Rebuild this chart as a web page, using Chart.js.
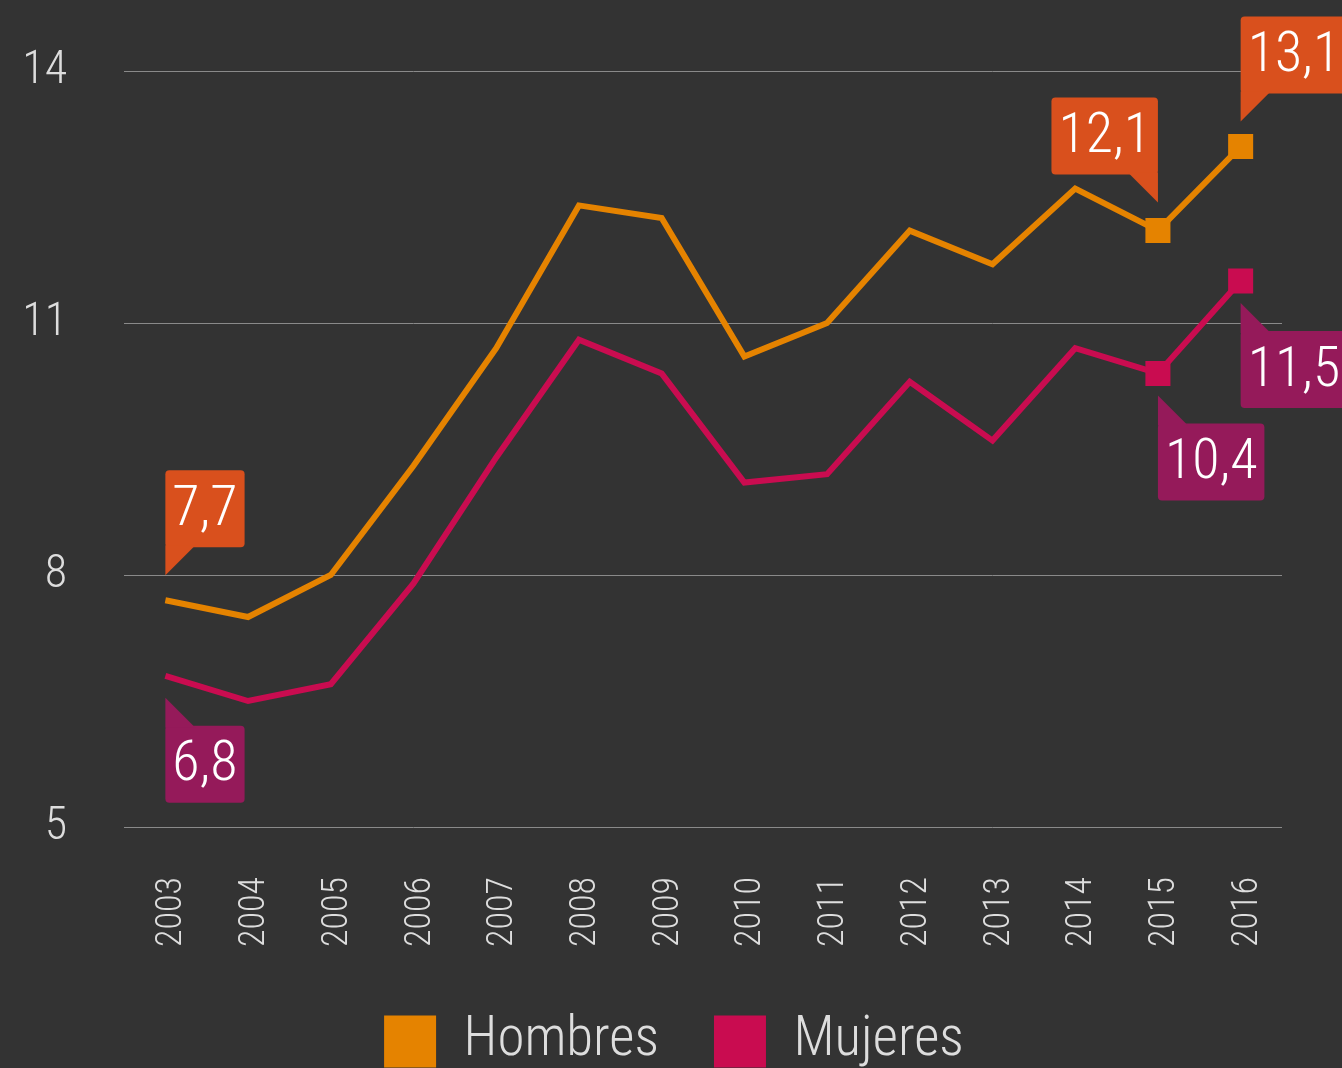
<!DOCTYPE html>
<html>
<head>
<meta charset="utf-8">
<script src="https://cdn.jsdelivr.net/npm/chart.js@4/dist/chart.umd.min.js"></script>
<style>
  html, body { margin: 0; padding: 0; background: #333333; overflow: hidden; }
  canvas { display: block; }
</style>
</head>
<body>
<canvas id="chart" width="1342" height="1080"></canvas>
<script>
var years = ['2003', '2004', '2005', '2006', '2007', '2008', '2009', '2010', '2011', '2012', '2013', '2014', '2015', '2016'];
var hombres = [7.7, 7.5, 8.0, 9.3, 10.7, 12.4, 12.25, 10.6, 11.0, 12.1, 11.7, 12.6, 12.1, 13.1];
var mujeres = [6.8, 6.5, 6.7, 7.9, 9.4, 10.8, 10.4, 9.1, 9.2, 10.3, 9.6, 10.7, 10.4, 11.5];
var yTicks = [5, 8, 11, 14];

var FONT = '"Roboto Condensed", "DejaVu Sans Condensed", sans-serif';

// which points carry a value bubble, and where it sits
var callouts = [
    { ds: 0, i: 0,  side: 'above-right', fill: '#d9501d' },
    { ds: 1, i: 0,  side: 'below-right', fill: '#951a5a' },
    { ds: 0, i: 12, side: 'above-left',  fill: '#d9501d' },
    { ds: 0, i: 13, side: 'above-right', fill: '#d9501d' },
    { ds: 1, i: 12, side: 'below-right', fill: '#951a5a' },
    { ds: 1, i: 13, side: 'below-right', fill: '#951a5a' }
];

var calloutPlugin = {
    id: 'callouts',
    afterDatasetsDraw: function(chart) {
        var ctx = chart.ctx;
        ctx.save();
        ctx.font = '300 56px ' + FONT;
        callouts.forEach(function(c) {
            var pt = chart.getDatasetMeta(c.ds).data[c.i];
            var val = chart.data.datasets[c.ds].data[c.i];
            var txt = val.toFixed(1).replace('.', ',');
            var w = ctx.measureText(txt).width + 14;
            var h = 77, tail = 28, gap, bx, by, tip;
            var px = pt.x, py = pt.y;
            if (c.side === 'above-right') {
                gap = 25;
                by = py - gap - tail - h; bx = px;
                tip = [[px, by + h - 2], [px, by + h + tail], [px + 30, by + h - 2]];
            } else if (c.side === 'above-left') {
                gap = 28;
                by = py - gap - tail - h; bx = px - w;
                tip = [[px, by + h - 2], [px, by + h + tail], [px - 30, by + h - 2]];
            } else {
                gap = 22;
                by = py + gap + tail; bx = px;
                tip = [[px, by + 2], [px, by - tail], [px + 30, by + 2]];
            }
            ctx.fillStyle = c.fill;
            ctx.beginPath();
            ctx.roundRect(bx, by, w, h, 4);
            ctx.fill();
            ctx.beginPath();
            ctx.moveTo(tip[0][0], tip[0][1]);
            ctx.lineTo(tip[1][0], tip[1][1]);
            ctx.lineTo(tip[2][0], tip[2][1]);
            ctx.closePath();
            ctx.fill();
            ctx.fillStyle = '#ffffff';
            ctx.textAlign = 'center';
            ctx.textBaseline = 'middle';
            ctx.fillText(txt, bx + w / 2, by + h / 2 + 2);
        });
        ctx.restore();
    }
};

// the legend in the original sits a bit right of the canvas centre
var legendShift = {
    id: 'legendShift',
    afterLayout: function(chart) {
        chart.legend.left += 33;
        chart.legend.right += 33;
    }
};

function markerRadius(ctx) {
    return ctx.dataIndex >= 12 ? 17.7 : 0;
}

new Chart(document.getElementById('chart'), {
    type: 'line',
    data: {
        labels: years,
        datasets: [{
            label: 'Hombres',
            data: hombres,
            borderColor: '#e58300',
            backgroundColor: '#e58300',
            borderWidth: 6,
            pointStyle: 'rect',
            pointRadius: markerRadius,
            pointBorderWidth: 0,
            tension: 0
        }, {
            label: 'Mujeres',
            data: mujeres,
            borderColor: '#c90c50',
            backgroundColor: '#c90c50',
            borderWidth: 6,
            pointStyle: 'rect',
            pointRadius: markerRadius,
            pointBorderWidth: 0,
            tension: 0
        }]
    },
    options: {
        responsive: false,
        animation: false,
        devicePixelRatio: 1,
        layout: { padding: { top: 71, right: 60, left: 0, bottom: 1 } },
        scales: {
            x: {
                offset: true,
                grid: { display: false },
                border: { display: false },
                ticks: {
                    color: '#dddddd',
                    font: { family: FONT, size: 36, weight: 300 },
                    minRotation: 90,
                    maxRotation: 90,
                    padding: 42,
                    labelOffset: 7
                },
                afterFit: function(scale) { scale.height = 132; }
            },
            y: {
                min: 5,
                max: 14,
                afterBuildTicks: function(scale) {
                    scale.ticks = yTicks.map(function(v) { return { value: v }; });
                },
                grid: { color: '#8a8a8a', lineWidth: 1, drawTicks: false },
                border: { display: false },
                ticks: {
                    color: '#dddddd',
                    font: { family: FONT, size: 46, weight: 300 },
                    padding: 57
                },
                afterFit: function(scale) {
                    scale.width = 124;
                    scale.paddingTop = 0;
                    scale.paddingBottom = 0;
                }
            }
        },
        plugins: {
            tooltip: { enabled: false },
            legend: {
                position: 'bottom',
                labels: {
                    color: '#dddddd',
                    font: { family: FONT, size: 55, weight: 300 },
                    boxWidth: 52,
                    boxHeight: 52,
                    padding: 55,
                    generateLabels: function(chart) {
                        var items = Chart.defaults.plugins.legend.labels.generateLabels(chart);
                        items.forEach(function(it) {
                            it.lineWidth = 0;
                            it.fillStyle = it.strokeStyle;
                        });
                        return items;
                    }
                }
            }
        }
    },
    plugins: [calloutPlugin, legendShift]
});
</script>
</body>
</html>
